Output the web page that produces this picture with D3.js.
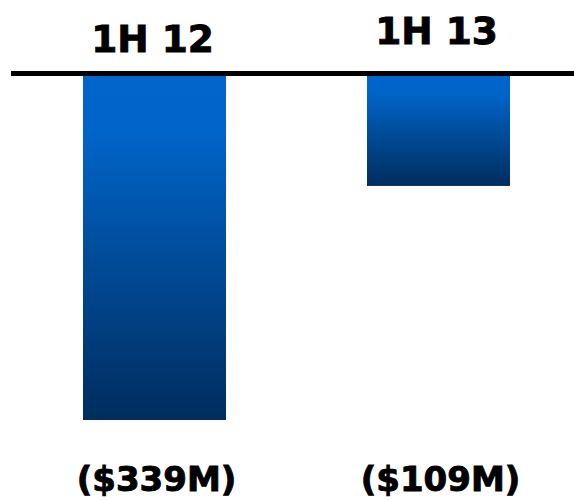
<!DOCTYPE html>
<html>
<head>
<meta charset="utf-8">
<script src="https://cdn.jsdelivr.net/npm/d3@7"></script>
<style>
  html, body { margin: 0; padding: 0; background: #fff; }
  svg { display: block; }
  text { font-family: Verdana, "DejaVu Sans", sans-serif; font-weight: bold; fill: #000; stroke: #000; stroke-width: 0.9px; }
</style>
</head>
<body>
<svg id="chart" width="574" height="500"></svg>
<script>
// Net result by half-year, in $ millions (losses are negative)
const periods = ["1H 12", "1H 13"];
const values = [-339, -109];
const valueLabels = ["($339M)", "($109M)"];

const W = 574, H = 500;
const svg = d3.select("#chart");

const x = d3.scaleBand()
  .domain(periods)
  .range([12.5, 580.5])
  .paddingInner(0.4965)
  .paddingOuter(0.24825);

const y = d3.scaleLinear()
  .domain([0, -339])
  .range([75, 420]);

// vertical blue-to-navy fill, one per bar
const defs = svg.append("defs");
const grad = defs.append("linearGradient")
  .attr("id", "barFill")
  .attr("x1", 0).attr("y1", 0).attr("x2", 0).attr("y2", 1);
grad.append("stop").attr("offset", "0").attr("stop-color", "#0066cc");
grad.append("stop").attr("offset", "0.15").attr("stop-color", "#0065ca");
grad.append("stop").attr("offset", "1").attr("stop-color", "#002d5e");

svg.selectAll("rect.bar")
  .data(values)
  .join("rect")
  .attr("class", "bar")
  .attr("x", (d, i) => x(periods[i]))
  .attr("width", x.bandwidth())
  .attr("y", y(0))
  .attr("height", d => y(d) - y(0))
  .attr("fill", "url(#barFill)");

// zero line
svg.append("line")
  .attr("x1", 11).attr("x2", W)
  .attr("y1", 73.5).attr("y2", 73.5)
  .attr("stroke", "#000")
  .attr("stroke-width", 5);

// period headers
const headerBase = [52, 44];
svg.selectAll("text.period")
  .data(periods)
  .join("text")
  .attr("class", "period")
  .attr("x", d => x(d) + x.bandwidth() / 2 - 2)
  .attr("y", (d, i) => headerBase[i])
  .attr("text-anchor", "middle")
  .attr("font-size", 37.5)
  .text(d => d);

// value labels below
svg.selectAll("text.value")
  .data(valueLabels)
  .join("text")
  .attr("class", "value")
  .attr("x", (d, i) => x(periods[i]) + x.bandwidth() / 2 + 2)
  .attr("y", 491)
  .attr("text-anchor", "middle")
  .attr("font-size", 34)
  .text(d => d);
</script>
</body>
</html>
